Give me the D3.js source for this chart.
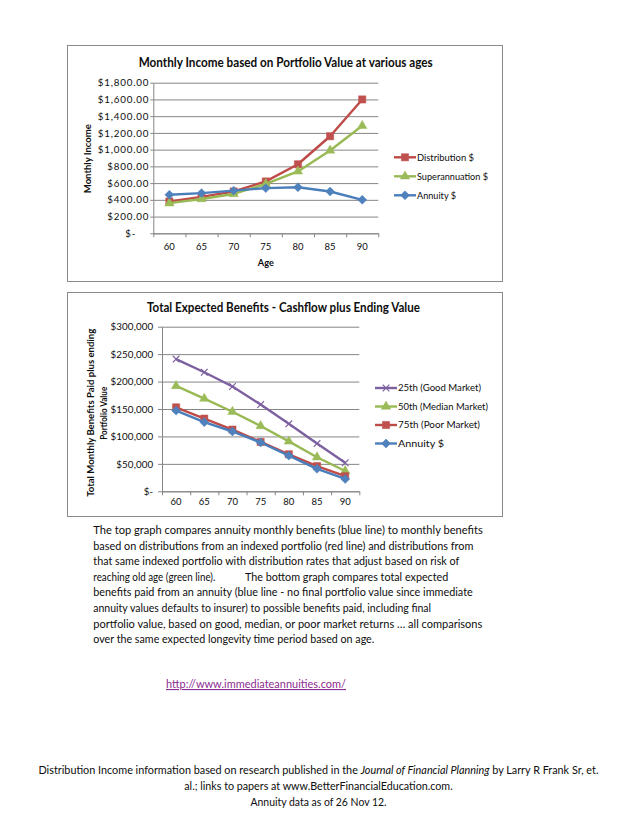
<!DOCTYPE html>
<html>
<head>
<meta charset="utf-8">
<script src="https://cdn.jsdelivr.net/npm/d3@7"></script>
<style>
  body { margin: 0; background: #fff; }
  text { font-family: Lato, "Open Sans", sans-serif; fill: #0d0d0d; }
</style>
</head>
<body>
<div id="page"></div>
<script>
// Category axis shared by both charts
var ages = [60, 65, 70, 75, 80, 85, 90];

// Top chart - monthly income ($)
var distribution   = [380, 435, 500, 620, 825, 1160, 1600];
var superannuation = [360, 410, 470, 590, 740, 990, 1285];
var annuityIncome  = [460, 480, 510, 540, 550, 500, 400];
var incomeTicks    = [0, 200, 400, 600, 800, 1000, 1200, 1400, 1600, 1800];

// Bottom chart - total expected benefits ($)
var goodMarket   = [241000, 217000, 191000, 158000, 123000, 87000, 52000];
var medianMarket = [192000, 169000, 145000, 119000, 91000, 62000, 37000];
var poorMarket   = [153000, 132500, 112500, 90000, 67500, 46000, 27500];
var annuityTotal = [147000, 126000, 109000, 89000, 65000, 41000, 22500];
var benefitTicks = [0, 50000, 100000, 150000, 200000, 250000, 300000];

var gridColor = "#868686";

var svg = d3.select("#page").append("svg")
    .attr("width", 638)
    .attr("height", 826);

// custom marker shapes (Excel style diamond and x)
var diamond = {
    draw: function(ctx, size) {
        var r = Math.sqrt(size / 2);
        ctx.moveTo(0, -r); ctx.lineTo(r, 0); ctx.lineTo(0, r); ctx.lineTo(-r, 0);
        ctx.closePath();
    }
};
var cross = {
    draw: function(ctx, size) {
        var r = Math.sqrt(size) / 2;
        ctx.moveTo(-r, -r); ctx.lineTo(r, r);
        ctx.moveTo(r, -r); ctx.lineTo(-r, r);
    }
};

// put a text and squeeze / stretch it to a given width
function label(parent, txt, x, y, size, width, anchor) {
    var t = parent.append("text")
        .attr("x", x)
        .attr("y", y)
        .style("font-size", size + "px")
        .attr("text-anchor", anchor || "start")
        .text(txt);
    if (width) t.attr("textLength", width).attr("lengthAdjust", "spacingAndGlyphs");
    return t;
}

function drawChart(o) {
    var g = svg.append("g");

    g.append("rect")
        .attr("x", o.box[0] + 0.5).attr("y", o.box[1] + 0.5)
        .attr("width", o.box[2]).attr("height", o.box[3])
        .attr("fill", "none").attr("stroke", "#8a8a8a");

    var x = d3.scaleBand().domain(ages).range([o.left, o.right]);
    var y = d3.scaleLinear().domain([0, d3.max(o.ticks)]).range([o.bottom, o.top]);

    // horizontal gridlines
    g.append("g")
        .attr("transform", "translate(" + o.left + ",0)")
        .call(d3.axisLeft(y).tickValues(o.ticks).tickSize(-(o.right - o.left)).tickFormat(""))
        .call(function(s) { s.select(".domain").remove(); })
        .selectAll("line").attr("stroke", gridColor);

    // value axis
    var yAxis = g.append("g")
        .attr("transform", "translate(" + o.left + ",0)")
        .call(d3.axisLeft(y).tickValues(o.ticks).tickSize(o.tickLen)
            .tickSizeOuter(0).tickPadding(o.tickPad).tickFormat(o.fmt));
    yAxis.selectAll("line, path").attr("stroke", gridColor);
    yAxis.selectAll("text")
        .attr("font-family", null)
        .style("font-size", o.yFont + "px")
        .style("letter-spacing", o.ySpacing + "px")
        .attr("dx", function(d) { return d === 0 ? o.zeroShift : 0; });

    // category axis: line and ticks on the boundaries
    var xb = d3.scaleLinear().domain([0, ages.length]).range([o.left, o.right]);
    var xAxis = g.append("g")
        .attr("transform", "translate(0," + o.bottom + ")")
        .call(d3.axisBottom(xb).tickValues(d3.range(ages.length + 1))
            .tickSize(4).tickSizeOuter(0).tickFormat(""));
    xAxis.selectAll("line, path").attr("stroke", gridColor);

    // category labels in the middle of each band
    var xLabels = g.append("g")
        .attr("transform", "translate(0," + o.bottom + ")")
        .call(d3.axisBottom(x).tickSize(0));
    xLabels.select(".domain").remove();
    xLabels.selectAll("text")
        .attr("font-family", null)
        .attr("y", o.xLabelOffset)
        .attr("dy", "0.35em")
        .style("font-size", "9.5px");

    // series
    var line = d3.line()
        .x(function(d, i) { return x(ages[i]) + x.bandwidth() / 2; })
        .y(function(d) { return y(d); });

    o.series.forEach(function(s) {
        g.append("path")
            .datum(s.values)
            .attr("fill", "none")
            .attr("stroke", s.color)
            .attr("stroke-width", 2.4)
            .attr("stroke-linejoin", "round")
            .attr("d", line);

        g.selectAll(null)
            .data(s.values)
            .enter().append("path")
            .attr("transform", function(d, i) {
                return "translate(" + (x(ages[i]) + x.bandwidth() / 2) + "," + y(d) + ")";
            })
            .attr("d", d3.symbol().type(s.symbol).size(s.size))
            .attr("fill", s.symbol === cross ? "none" : s.fill)
            .attr("stroke", s.symbol === cross ? s.color : s.fill)
            .attr("stroke-width", s.symbol === cross ? 1.2 : 0.5);
    });

    // legend
    var lg = g.append("g");
    o.series.forEach(function(s, i) {
        var ly = o.legend.y + i * o.legend.dy;
        lg.append("line")
            .attr("x1", o.legend.x).attr("x2", o.legend.x + 22)
            .attr("y1", ly).attr("y2", ly)
            .attr("stroke", s.color).attr("stroke-width", 2.4);
        lg.append("path")
            .attr("transform", "translate(" + (o.legend.x + 11) + "," + ly + ")")
            .attr("d", d3.symbol().type(s.symbol).size(s.size))
            .attr("fill", s.symbol === cross ? "none" : s.fill)
            .attr("stroke", s.symbol === cross ? s.color : s.fill)
            .attr("stroke-width", s.symbol === cross ? 1.2 : 0.5);
        label(lg, s.name, o.legend.x + 23, ly + 3.4, o.legend.font, s.labelWidth);
    });

    // titles
    label(g, o.title, o.titleX, o.titleY, 12.5, o.titleWidth, "middle")
        .style("font-weight", "bold");

    o.yTitle.forEach(function(t) {
        label(g, t.text, 0, 0, 9.5, t.width, "middle")
            .style("font-weight", "bold")
            .attr("transform", "translate(" + (t.x + 3.3) + "," + t.y + ") rotate(-90)");
    });

    if (o.xTitle) {
        label(g, o.xTitle, (o.left + o.right) / 2, o.xTitleY, 9.5, 16, "middle")
            .style("font-weight", "bold");
    }
}

var moneyFmt = d3.format("$,.2f");
var kFmt = d3.format("$,.0f");

drawChart({
    box: [67, 45, 435, 236],
    left: 153.3, right: 378.3, top: 82.7, bottom: 233.3,
    ticks: incomeTicks,
    fmt: function(d) { return d === 0 ? "$-" : moneyFmt(d); },
    tickLen: 3, tickPad: 1, yFont: 9.8, ySpacing: 0.8, zeroShift: -13,
    xLabelOffset: 13.4,
    title: "Monthly Income based on Portfolio Value at various ages",
    titleX: 285.7, titleY: 66.5, titleWidth: 294,
    yTitle: [{text: "Monthly Income", x: 87.7, y: 158.7, width: 69}],
    xTitle: "Age", xTitleY: 266,
    legend: {x: 394, y: 157.3, dy: 19, font: 10},
    series: [
        {name: "Distribution $", values: distribution, color: "#BE4B48", fill: "#C0504D", symbol: d3.symbolSquare, size: 52, labelWidth: 57},
        {name: "Superannuation $", values: superannuation, color: "#98B954", fill: "#9BBB59", symbol: d3.symbolTriangle, size: 38, labelWidth: 71},
        {name: "Annuity $", values: annuityIncome, color: "#4A7EBB", fill: "#4F81BD", symbol: diamond, size: 40, labelWidth: 39}
    ]
});

drawChart({
    box: [67, 292, 435, 224],
    left: 162, right: 359.3, top: 326.7, bottom: 491.3,
    ticks: benefitTicks,
    fmt: function(d) { return d === 0 ? "$-" : kFmt(d); },
    tickLen: 4, tickPad: 4.7, yFont: 9.8, ySpacing: 0.1, zeroShift: 0,
    xLabelOffset: 10.4,
    title: "Total Expected Benefits - Cashflow plus Ending Value",
    titleX: 283.5, titleY: 312, titleWidth: 273,
    yTitle: [
        {text: "Total Monthly Benefits Paid plus ending", x: 91, y: 412.8, width: 168},
        {text: "Portfolio Value", x: 103.3, y: 413.3, width: 53}
    ],
    legend: {x: 375, y: 388, dy: 18.5, font: 10},
    series: [
        {name: "25th (Good Market)", values: goodMarket, color: "#7D60A0", fill: "#8064A2", symbol: cross, size: 44, labelWidth: 83},
        {name: "50th (Median Market)", values: medianMarket, color: "#98B954", fill: "#9BBB59", symbol: d3.symbolTriangle, size: 38, labelWidth: 90},
        {name: "75th (Poor Market)", values: poorMarket, color: "#BE4B48", fill: "#C0504D", symbol: d3.symbolSquare, size: 52, labelWidth: 82},
        {name: "Annuity $", values: annuityTotal, color: "#4A7EBB", fill: "#4F81BD", symbol: diamond, size: 40, labelWidth: 46}
    ]
});

// explanatory paragraph, one text per line as in the document
var para = svg.append("g");
var paraLines = [
    {t: "The top graph compares annuity monthly benefits (blue line) to monthly benefits", x: 93.3, w: 389.4},
    {t: "based on distributions from an indexed portfolio (red line) and distributions from", x: 93.3, w: 380},
    {t: "that same indexed portfolio with distribution rates that adjust based on risk of", x: 93.3, w: 366},
    {t: "reaching old age (green line).", x: 93.3, w: 122, t2: "The bottom graph compares total expected", x2: 245, w2: 203.3},
    {t: "benefits paid from an annuity (blue line - no final portfolio value since immediate", x: 93.3, w: 379.4},
    {t: "annuity values defaults to insurer) to possible benefits paid, including final", x: 93.3, w: 337.7},
    {t: "portfolio value, based on good, median, or poor market returns \u2026 all comparisons", x: 93.3, w: 389},
    {t: "over the same expected longevity time period based on age.", x: 93.3, w: 281}
];
paraLines.forEach(function(l, i) {
    var yy = 534 + i * 15.6;
    label(para, l.t, l.x, yy, 11, l.w);
    if (l.t2) label(para, l.t2, l.x2, yy, 11, l.w2);
});

// link
label(svg, "http://www.immediateannuities.com/", 166, 688, 11, 180)
    .style("fill", "#8B2C8F")
    .style("text-decoration", "underline");

// footer note
var foot = svg.append("g");
var f1 = foot.append("text")
    .attr("x", 318.5).attr("y", 774)
    .attr("text-anchor", "middle")
    .style("font-size", "10.8px")
    .attr("textLength", 560).attr("lengthAdjust", "spacingAndGlyphs");
f1.append("tspan").text("Distribution Income information based on research published in the ");
f1.append("tspan").style("font-style", "italic").text("Journal of Financial Planning");
f1.append("tspan").text("  by Larry R Frank Sr, et.");
label(foot, "al.; links to papers at www.BetterFinancialEducation.com.", 318.5, 790, 10.8, 268.4, "middle");
label(foot, "Annuity data as of 26 Nov 12.", 318.5, 805.5, 10.8, 136, "middle");
</script>
</body>
</html>
